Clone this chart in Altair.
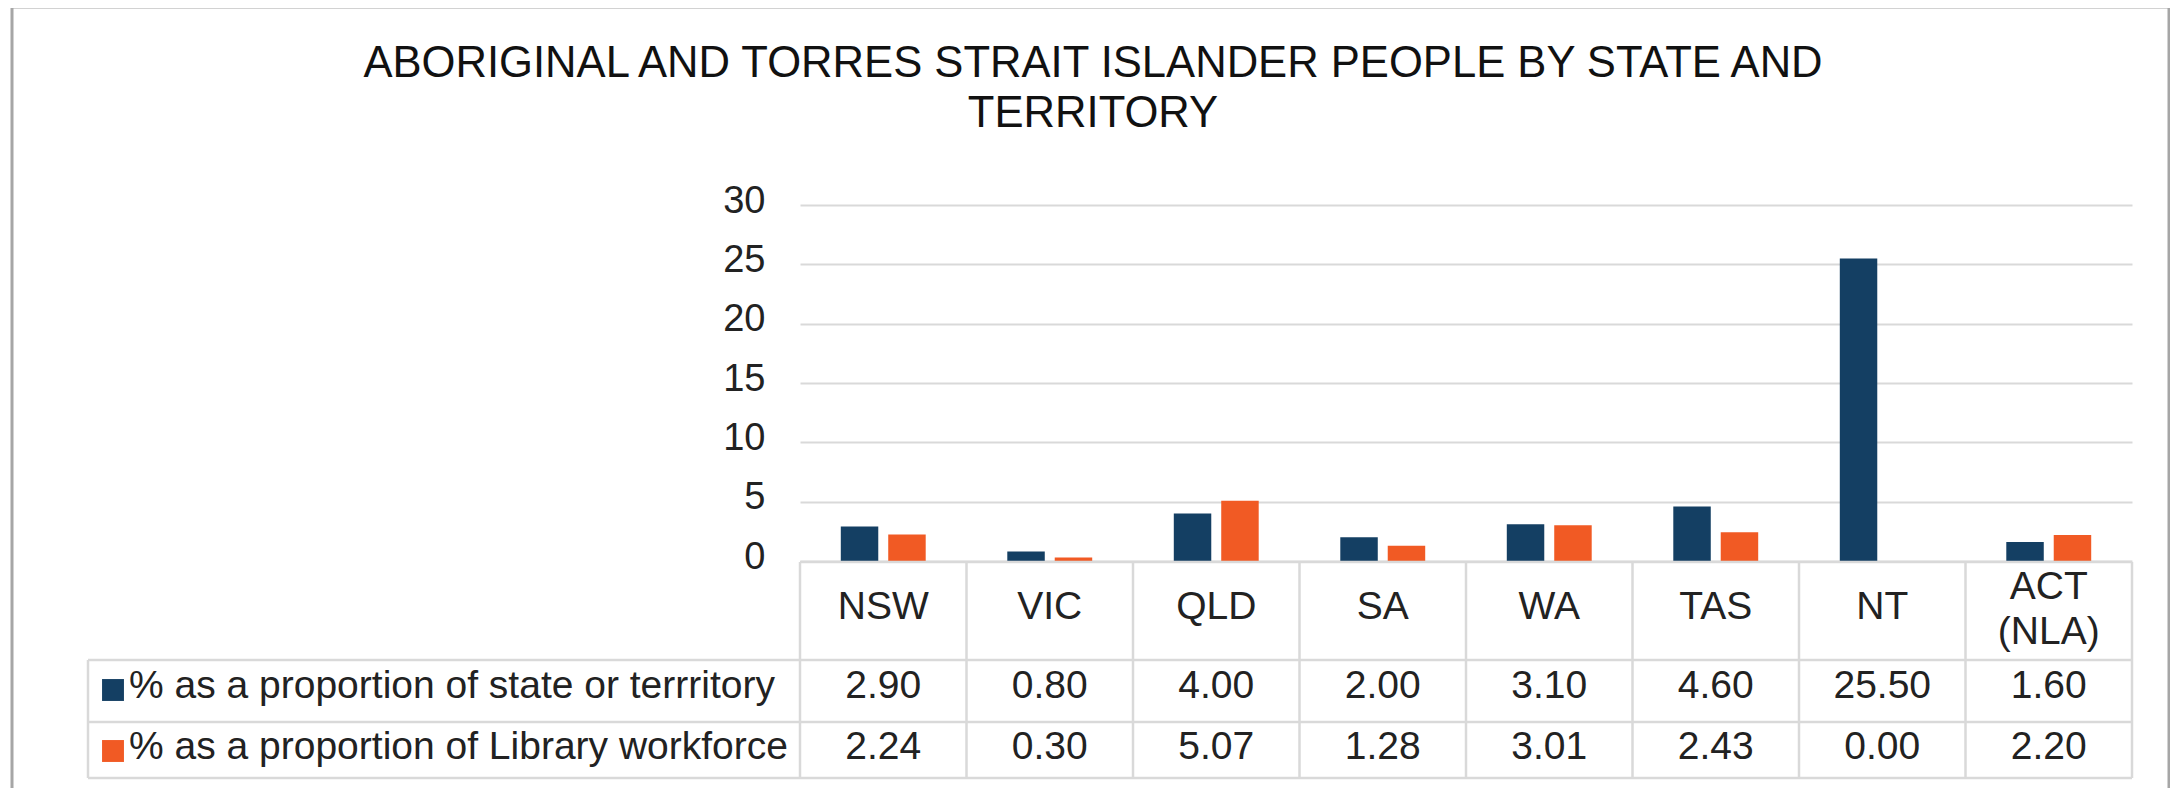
import altair as alt
import pandas as pd

states = ["NSW", "VIC", "QLD", "SA", "WA", "TAS", "NT", "ACT"]
header_labels = ["NSW", "VIC", "QLD", "SA", "WA", "TAS", "NT", "ACT\n(NLA)"]
series = ["% as a proportion of state or terrritory", "% as a proportion of Library workforce"]
state_pct = [2.90, 0.80, 4.00, 2.00, 3.10, 4.60, 25.50, 1.60]
library_pct = [2.24, 0.30, 5.07, 1.28, 3.01, 2.43, 0.00, 2.20]
title_lines = ["ABORIGINAL AND TORRES STRAIT ISLANDER PEOPLE BY STATE AND", "TERRITORY"]
y_ticks = [0, 5, 10, 15, 20, 25, 30]

NAVY = "#143f63"
ORANGE = "#f15a24"
TXT = "#222222"
GRID = "#d9d9d9"
FONT = "Liberation Sans"

W = 1332
H = 573

rows = []
for i, s in enumerate(states):
    rows.append({"state": s, "series": series[0], "value": state_pct[i]})
    rows.append({"state": s, "series": series[1], "value": library_pct[i]})
df = pd.DataFrame(rows)
hdr = pd.DataFrame({"state": states, "label": header_labels})
leg = pd.DataFrame({"series": series})
one = pd.DataFrame({"k": [0]})

xscale = alt.Scale(domain=states, paddingInner=0, paddingOuter=0)
cscale = alt.Scale(domain=series, range=[NAVY, ORANGE])

bars = alt.Chart(df).mark_bar().encode(
    x=alt.X("state:N", scale=xscale, axis=None),
    xOffset=alt.XOffset("series:N", sort=series,
                        scale=alt.Scale(domain=series, paddingInner=0.21, paddingOuter=0.86)),
    y=alt.Y("value:Q", scale=alt.Scale(domain=[0, 30], range=[356, 0]),
            axis=alt.Axis(values=y_ticks, grid=True, gridColor=GRID, gridWidth=2,
                          domain=False, ticks=False, labelFontSize=38, labelFont=FONT,
                          labelColor=TXT, labelPadding=35, labelOffset=-4, title=None)),
    color=alt.Color("series:N", scale=cscale, legend=None),
)

# table lines
vlines = alt.Chart(hdr).mark_rule(color=GRID, strokeWidth=2.5).encode(
    x=alt.X("state:N", scale=xscale, bandPosition=0, axis=None),
    y=alt.value(357), y2=alt.value(573),
)
vline_last = alt.Chart(hdr).transform_filter(alt.datum.state == states[-1]).mark_rule(
    color=GRID, strokeWidth=2.5).encode(
    x=alt.X("state:N", scale=xscale, bandPosition=1, axis=None),
    y=alt.value(357), y2=alt.value(573),
)
vline_left = alt.Chart(one).mark_rule(color=GRID, strokeWidth=2.5).encode(
    x=alt.value(-712), y=alt.value(455), y2=alt.value(573))
h_top = alt.Chart(one).mark_rule(color=GRID, strokeWidth=2.5).encode(
    x=alt.value(0), x2=alt.value(W), y=alt.value(357))
h_lines = [
    alt.Chart(one).mark_rule(color=GRID, strokeWidth=2.5).encode(
        x=alt.value(-712), x2=alt.value(W), y=alt.value(yy))
    for yy in (455, 517, 573)
]

header_single = alt.Chart(hdr).transform_filter(
    "indexof(datum.label, '\\n') < 0").mark_text(
    fontSize=39, font=FONT, color=TXT, baseline="middle").encode(
    x=alt.X("state:N", scale=xscale, bandPosition=0.5, axis=None),
    y=alt.value(402),
    text="label:N",
)
header_multi = alt.Chart(hdr).transform_filter(
    "indexof(datum.label, '\\n') >= 0").mark_text(
    fontSize=39, font=FONT, color=TXT, baseline="middle", lineBreak="\n", lineHeight=45).encode(
    x=alt.X("state:N", scale=xscale, bandPosition=0.5, axis=None),
    y=alt.value(382),
    text="label:N",
)

row_y = [481, 542]
row_layers = []
for i, s in enumerate(series):
    row_layers.append(
        alt.Chart(df).transform_filter(alt.datum.series == s).mark_text(
            fontSize=39, font=FONT, color=TXT, baseline="middle").encode(
            x=alt.X("state:N", scale=xscale, bandPosition=0.5, axis=None),
            y=alt.value(row_y[i]),
            text=alt.Text("value:Q", format=".2f"),
        )
    )
    row_layers.append(
        alt.Chart(leg).transform_filter(alt.datum.series == s).mark_text(
            fontSize=39, font=FONT, color=TXT, baseline="middle", align="left").encode(
            x=alt.value(-671), y=alt.value(row_y[i]), text="series:N")
    )
    row_layers.append(
        alt.Chart(leg).transform_filter(alt.datum.series == s).mark_square(
            size=480, opacity=1).encode(
            x=alt.value(-687), y=alt.value(row_y[i] + 4),
            color=alt.Color("series:N", scale=cscale, legend=None))
    )

title = alt.Chart(one).mark_text(text=title_lines, fontSize=43.6, font=FONT, color="#111111",
                                 align="center", baseline="alphabetic", lineHeight=50).encode(
    x=alt.value(1093 - 800), y=alt.value(77 - 205))

frame = alt.Chart(one).mark_rect(fillOpacity=0, stroke="#a6a6a6", strokeWidth=3).encode(
    x=alt.value(-788), x2=alt.value(1369), y=alt.value(-198), y2=alt.value(700))

chart = alt.layer(
    frame, title, bars, vlines, vline_last, vline_left, h_top, *h_lines,
    header_single, header_multi, *row_layers
).resolve_scale(y="independent").properties(
    width=W, height=H,
    autosize=alt.AutoSizeParams(type="none"),
    padding={"left": 792, "top": 197, "right": 38, "bottom": 10},
).configure_view(stroke="transparent")

chart.save("out.html", embed_options={"renderer": "svg", "actions": False})
